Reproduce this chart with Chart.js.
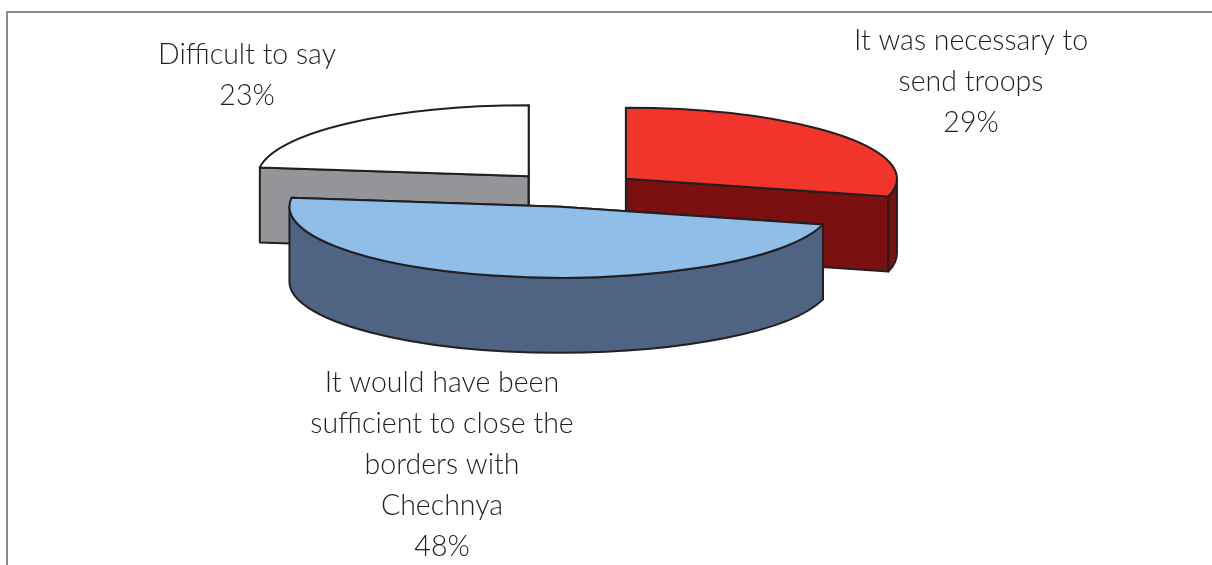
<!DOCTYPE html>
<html>
<head>
<meta charset="utf-8">
<style>
  html, body { margin: 0; padding: 0; background: #fff; }
  #wrap { position: relative; width: 1212px; height: 565px; overflow: hidden; }
  #frame { position: absolute; left: 6px; top: 11px; right: -4px; bottom: -4px; border: 2px solid #8a8a8a; }
  canvas { position: absolute; left: 0; top: 0; }
</style>
</head>
<body>
<div id="wrap">
  <div id="frame"></div>
  <canvas id="pie-chart" width="1212" height="565"></canvas>
</div>
<script src="https://cdn.jsdelivr.net/npm/chart.js@4/dist/chart.umd.min.js"></script>
<script>
// Chart data
const categories = [
  'It was necessary to send troops',
  'It would have been sufficient to close the borders with Chechnya',
  'Difficult to say'
];
const shares = [29, 48, 23];

// Wrapped label lines, same order as categories
const labelLines = [
  ['It was necessary to', 'send troops'],
  ['It would have been', 'sufficient to close the', 'borders with', 'Chechnya'],
  ['Difficult to say']
];

// Colours
const topColors = ['#f1352b', '#8fbee8', '#ffffff'];
const sideColors = ['#7a1010', '#4f6482', '#939598'];
const lineColor = '#231f20';

// Fake 3D settings
const squash = 0.262;
const explode = 67;
const depth = 75;

// Label placement: centre x, first baseline y
const labelPos = [[971, 50], [442, 392], [247, 64]];
const lineGap = 41;

function drawSlice(ctx, s) {
  const ry = s.r * squash;
  const rimX = a => s.x + Math.cos(a) * s.r;
  const rimY = a => s.y + Math.sin(a) * ry;

  ctx.lineWidth = 2;
  ctx.lineJoin = 'round';
  ctx.strokeStyle = lineColor;

  // Flat cut faces
  ctx.fillStyle = s.side;
  [s.start, s.end].forEach(a => {
    ctx.beginPath();
    ctx.moveTo(s.x, s.y);
    ctx.lineTo(rimX(a), rimY(a));
    ctx.lineTo(rimX(a), rimY(a) + depth);
    ctx.lineTo(s.x, s.y + depth);
    ctx.closePath();
    ctx.fill();
    ctx.stroke();
  });

  // Curved outer wall, only the front half shows
  const a0 = Math.max(s.start, 0);
  const a1 = Math.min(s.end, Math.PI);
  if (a1 > a0) {
    ctx.beginPath();
    ctx.ellipse(s.x, s.y, s.r, ry, 0, a0, a1);
    ctx.ellipse(s.x, s.y + depth, s.r, ry, 0, a1, a0, true);
    ctx.closePath();
    ctx.fill();
    ctx.stroke();
  }

  // Top face
  ctx.fillStyle = s.top;
  ctx.beginPath();
  ctx.moveTo(s.x, s.y);
  ctx.ellipse(s.x, s.y, s.r, ry, 0, s.start, s.end);
  ctx.closePath();
  ctx.fill();
  ctx.stroke();
}

const pie3d = {
  id: 'pie3d',
  beforeDatasetsDraw(chart) {
    const ctx = chart.ctx;
    const slices = chart.getDatasetMeta(0).data.map((arc, i) => {
      const p = arc.getProps(['x', 'y', 'startAngle', 'endAngle', 'outerRadius'], true);
      const mid = (p.startAngle + p.endAngle) / 2;
      return {
        x: p.x + Math.cos(mid) * explode,
        y: p.y + Math.sin(mid) * explode * squash,
        r: p.outerRadius,
        start: p.startAngle,
        end: p.endAngle,
        top: topColors[i],
        side: sideColors[i]
      };
    });

    // Back to front
    ctx.save();
    slices.slice().sort((a, b) => a.y - b.y).forEach(s => drawSlice(ctx, s));
    ctx.restore();

    // Labels
    ctx.save();
    ctx.fillStyle = lineColor;
    ctx.font = '300 28.5px Lato';
    ctx.textAlign = 'center';
    ctx.textBaseline = 'alphabetic';
    labelLines.forEach((lines, i) => {
      const [lx, ly] = labelPos[i];
      lines.concat(shares[i] + '%').forEach((text, n) => {
        ctx.fillText(text, lx, ly + n * lineGap);
      });
    });
    ctx.restore();
    return false;
  }
};

const pieChart = new Chart(document.getElementById('pie-chart'), {
  type: 'pie',
  data: {
    labels: categories,
    datasets: [{
      data: shares,
      backgroundColor: topColors,
      borderWidth: 0
    }]
  },
  options: {
    responsive: false,
    animation: false,
    radius: 271,
    layout: {
      padding: { left: 0, top: 0, right: 66, bottom: 186 }
    },
    plugins: {
      legend: { display: false },
      tooltip: { enabled: false }
    }
  },
  plugins: [pie3d]
});
</script>
</body>
</html>
